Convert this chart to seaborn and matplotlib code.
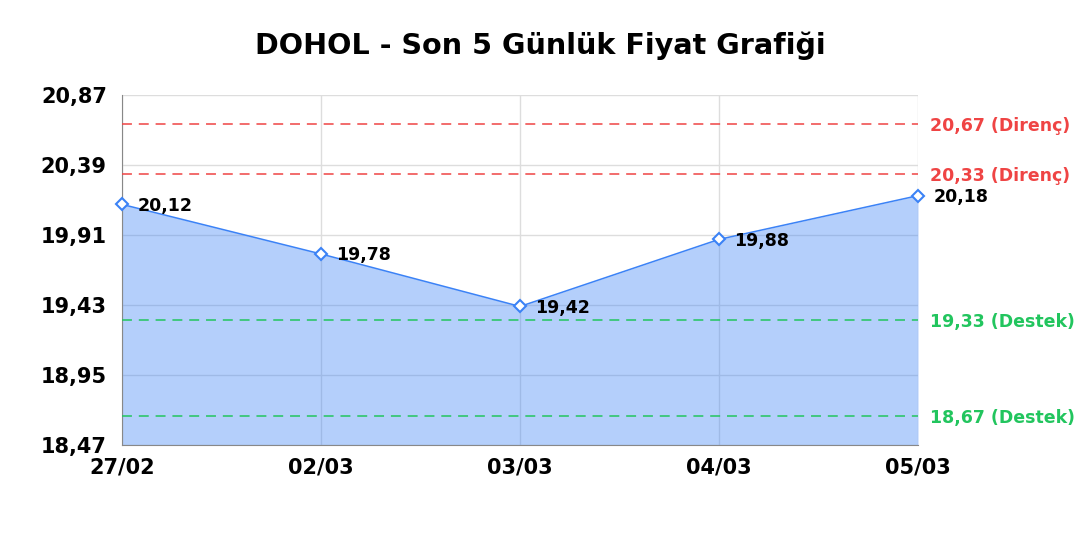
import matplotlib
matplotlib.use("Agg")
import matplotlib.pyplot as plt
import seaborn as sns
import pandas as pd

dates = ["27/02", "02/03", "03/03", "04/03", "05/03"]
prices = [20.12, 19.78, 19.42, 19.88, 20.18]
resistance = [20.67, 20.33]
support = [19.33, 18.67]
yticks = [18.47, 18.95, 19.43, 19.91, 20.39, 20.87]

sns.set_style("white")
plt.rcParams['font.family'] = ['DejaVu Sans']

df = pd.DataFrame({"x": range(len(dates)), "price": prices})

fig = plt.figure(figsize=(10.8, 5.4), dpi=100)
ax = fig.add_axes([0.113, 0.176, 0.737, 0.648])

# semi-transparent fill so the grid shows faintly through it
ax.fill_between(df["x"], df["price"], yticks[0], color="#3b82f6", alpha=0.38,
                linewidth=0, zorder=1)
sns.lineplot(data=df, x="x", y="price", ax=ax, color="#3b82f6", linewidth=1.1,
             marker="D", markersize=6, markerfacecolor="white",
             markeredgecolor="#3b82f6", markeredgewidth=1.5, zorder=4, clip_on=False)

for xi, p in zip(df["x"], prices):
    ax.annotate(f"{p:.2f}".replace(".", ","), (xi, p), xytext=(11, -1),
                textcoords="offset points", va="center", ha="left",
                fontsize=12.5, fontweight="bold", color="#000000", zorder=5)

def level_label(val, kind, color):
    ax.axhline(val, color=color, linestyle=(0, (6.5, 4.5)), linewidth=1.1, zorder=3)
    ax.annotate(f"{val:.2f}".replace(".", ",") + f" ({kind})", (1, val),
                xycoords=("axes fraction", "data"), xytext=(9, -1.5),
                textcoords="offset points", va="center", ha="left",
                fontsize=12.5, fontweight="bold", color=color, annotation_clip=False)

for r in resistance:
    level_label(r, "Direnç", "#ef4444")
for s in support:
    level_label(s, "Destek", "#22c55e")

ax.set_xlim(0, len(dates) - 1)
ax.set_ylim(yticks[0], yticks[-1])
ax.set_xticks(range(len(dates)))
ax.set_xticklabels(dates)
ax.set_yticks(yticks)
ax.set_yticklabels([f"{t:.2f}".replace(".", ",") for t in yticks])
ax.tick_params(axis="x", labelsize=15, length=0, pad=9, labelcolor="#000000")
ax.tick_params(axis="y", labelsize=15, length=0, pad=11, labelcolor="#000000")
for lab in ax.get_xticklabels() + ax.get_yticklabels():
    lab.set_fontweight("bold")
ax.grid(True, color="#dddddd", linewidth=1, zorder=0)
ax.set_axisbelow(True)
ax.set_xlabel("")
ax.set_ylabel("")
for side in ["top", "right"]:
    ax.spines[side].set_visible(False)
ax.spines["left"].set_color("#888888")
ax.spines["bottom"].set_color("#888888")

fig.suptitle("DOHOL - Son 5 Günlük Fiyat Grafiği", fontsize=20.6, fontweight="bold",
             color="#000000", y=0.942)

fig.savefig("out.png", dpi=100)
